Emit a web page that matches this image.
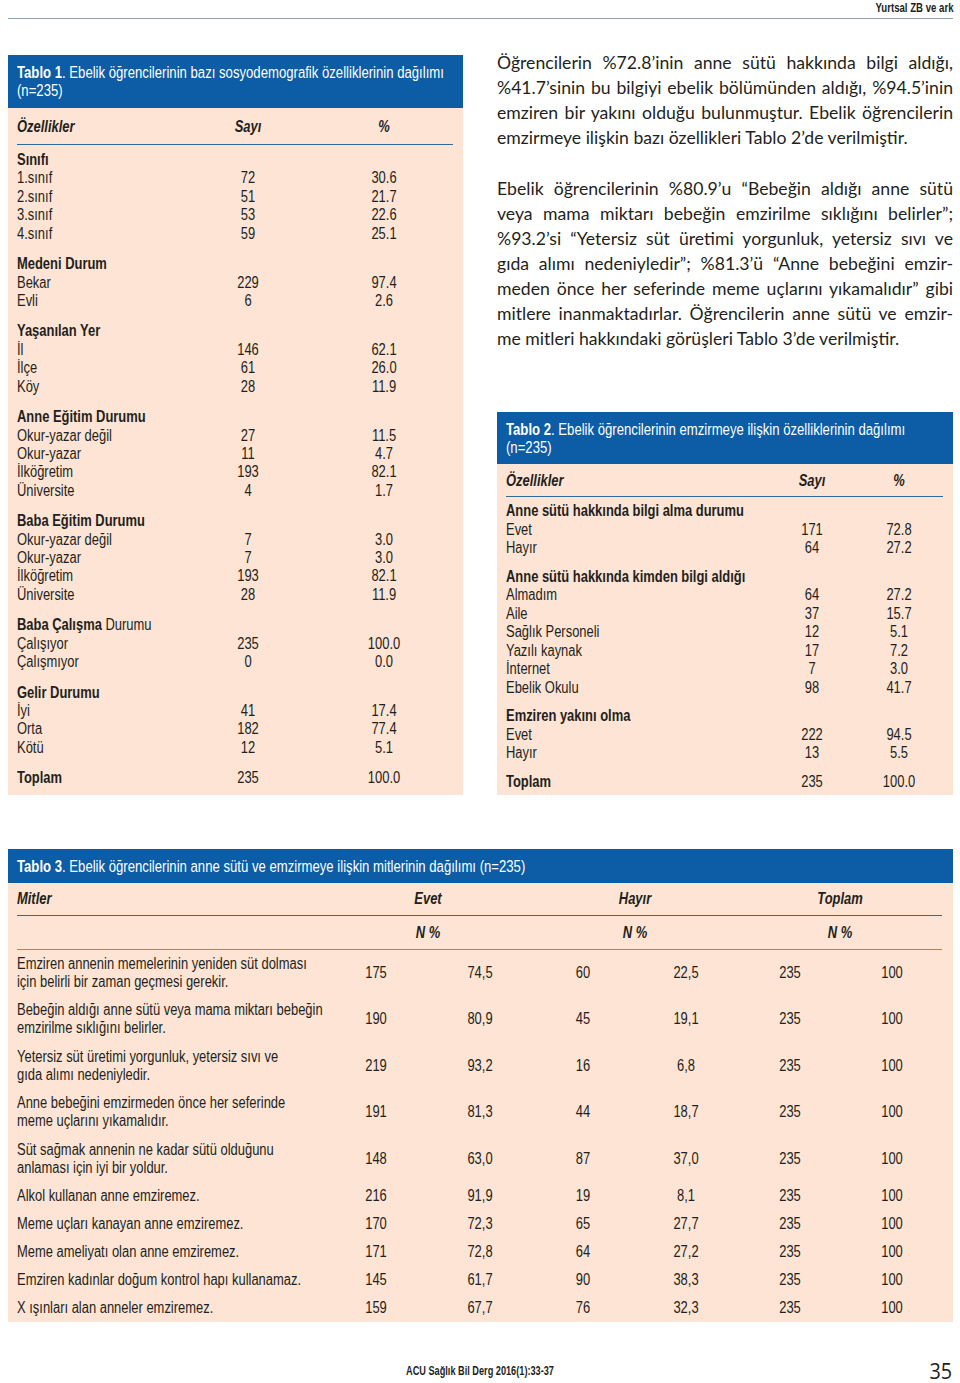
<!DOCTYPE html>
<html><head><meta charset="utf-8">
<script src="https://cdn.jsdelivr.net/npm/chart.js@4.4.1/dist/chart.umd.min.js"></script>
<style>
html,body{margin:0;padding:0;background:#fff;}
body{width:960px;height:1383px;position:relative;overflow:hidden;
 font-family:"Liberation Sans",Arial,sans-serif;color:#231f20;font-size:16px;}
.a{position:absolute;white-space:nowrap;line-height:20px;height:20px;}
.box{position:absolute;background:#fde4d4;}
.hdr{position:absolute;background:#0c5da5;}
.rule{position:absolute;height:1px;background:#2f6a9c;}
.p{position:absolute;white-space:nowrap;font-family:Lato,"Open Sans",sans-serif;color:#231f20;line-height:25px;}
</style></head>
<body>
<script>
// ---------- DATA ----------
const headerRight = "Yurtsal ZB ve ark";
const footerText = "ACU Sağlık Bil Derg 2016(1):33-37";
const pageNumber = "35";

const t1Title = ["Tablo 1", ". Ebelik öğrencilerinin bazı sosyodemografik özelliklerinin dağılımı", "(n=235)"];
const t1Columns = ["Özellikler", "Sayı", "%"];
const t1GroupTitles = ["Sınıfı","Medeni Durum","Yaşanılan Yer","Anne Eğitim Durumu","Baba Eğitim Durumu","Baba Çalışma Durumu","Gelir Durumu"];
const t1GroupBoldWords = [1,2,2,3,3,2,2];
const t1Labels = [
 ["1.sınıf","2.sınıf","3.sınıf","4.sınıf"],
 ["Bekar","Evli"],
 ["İl","İlçe","Köy"],
 ["Okur-yazar değil","Okur-yazar","İlköğretim","Üniversite"],
 ["Okur-yazar değil","Okur-yazar","İlköğretim","Üniversite"],
 ["Çalışıyor","Çalışmıyor"],
 ["İyi","Orta","Kötü"]];
const t1Counts = [[72,51,53,59],[229,6],[146,61,28],[27,11,193,4],[7,7,193,28],[235,0],[41,182,12]];
const t1Percents = [["30.6","21.7","22.6","25.1"],["97.4","2.6"],["62.1","26.0","11.9"],["11.5","4.7","82.1","1.7"],["3.0","3.0","82.1","11.9"],["100.0","0.0"],["17.4","77.4","5.1"]];
const t1Total = ["Toplam", 235, "100.0"];

const t2Title = ["Tablo 2", ". Ebelik öğrencilerinin emzirmeye ilişkin özelliklerinin dağılımı", "(n=235)"];
const t2Columns = ["Özellikler", "Sayı", "%"];
const t2GroupTitles = ["Anne sütü hakkında bilgi alma durumu","Anne sütü hakkında kimden bilgi aldığı","Emziren yakını olma"];
const t2Labels = [["Evet","Hayır"],["Almadım","Aile","Sağlık Personeli","Yazılı kaynak","İnternet","Ebelik Okulu"],["Evet","Hayır"]];
const t2Counts = [[171,64],[64,37,12,17,7,98],[222,13]];
const t2Percents = [["72.8","27.2"],["27.2","15.7","5.1","7.2","3.0","41.7"],["94.5","5.5"]];
const t2Total = ["Toplam", 235, "100.0"];

const t3Title = ["Tablo 3", ". Ebelik öğrencilerinin anne sütü ve emzirmeye ilişkin mitlerinin dağılımı (n=235)"];
const t3Columns = ["Mitler","Evet","Hayır","Toplam"];
const t3SubColumns = ["N %","N %","N %"];
const t3Myths = [
 ["Emziren annenin memelerinin yeniden süt dolması","için belirli bir zaman geçmesi gerekir."],
 ["Bebeğin aldığı anne sütü veya mama miktarı bebeğin","emzirilme sıklığını belirler."],
 ["Yetersiz süt üretimi yorgunluk, yetersiz sıvı ve","gıda alımı nedeniyledir."],
 ["Anne bebeğini emzirmeden önce her seferinde","meme uçlarını yıkamalıdır."],
 ["Süt sağmak annenin ne kadar sütü olduğunu","anlaması için iyi bir yoldur."],
 ["Alkol kullanan anne emziremez."],
 ["Meme uçları kanayan anne emziremez."],
 ["Meme ameliyatı olan anne emziremez."],
 ["Emziren kadınlar doğum kontrol hapı kullanamaz."],
 ["X ışınları alan anneler emziremez."]];
const t3EvetN = [175,190,219,191,148,216,170,171,145,159];
const t3EvetPct = ["74,5","80,9","93,2","81,3","63,0","91,9","72,3","72,8","61,7","67,7"];
const t3HayirN = [60,45,16,44,87,19,65,64,90,76];
const t3HayirPct = ["22,5","19,1","6,8","18,7","37,0","8,1","27,7","27,2","38,3","32,3"];
const t3TotalN = [235,235,235,235,235,235,235,235,235,235];
const t3TotalPct = ["100","100","100","100","100","100","100","100","100","100"];

const para1 = [
 "Öğrencilerin %72.8’inin anne sütü hakkında bilgi aldığı,",
 "%41.7’sinin bu bilgiyi ebelik bölümünden aldığı, %94.5’inin",
 "emziren bir yakını olduğu bulunmuştur. Ebelik öğrencilerin",
 "emzirmeye ilişkin bazı özellikleri Tablo 2’de verilmiştir."];
const para2 = [
 "Ebelik öğrencilerinin %80.9’u “Bebeğin aldığı anne sütü",
 "veya mama miktarı bebeğin emzirilme sıklığını belirler”;",
 "%93.2’si “Yetersiz süt üretimi yorgunluk, yetersiz sıvı ve",
 "gıda alımı nedeniyledir”; %81.3’ü “Anne bebeğini emzir-",
 "meden önce her seferinde meme uçlarını yıkamalıdır” gibi",
 "mitlere inanmaktadırlar. Öğrencilerin anne sütü ve emzir-",
 "me mitleri hakkındaki görüşleri Tablo 3’de verilmiştir."];

// ---------- RENDER HELPERS ----------
const B = document.body;
function el(cls, css, html){const d=document.createElement('div');d.className=cls;Object.assign(d.style,css);if(html!==undefined)d.innerHTML=html;B.appendChild(d);return d;}
function esc(s){return String(s).replace(/&/g,'&amp;').replace(/</g,'&lt;');}

// condensed scale: fit a reference line to its width in the print
const probe=el('a',{left:'0px',top:'-100px'},esc("Emziren kadınlar doğum kontrol hapı kullanamaz."));
const SX=284/probe.getBoundingClientRect().width; probe.remove();
const TFS='16.25px';

function txt(s,x,yc,align,extra,sx){
  sx = sx||SX;
  const css=Object.assign({top:(yc-10)+'px'},extra||{});
  const d=el('a',css,typeof s==='string'&&s.startsWith('<')?s:esc(s));
  if(align==='center'){d.style.left=x+'px';d.style.transformOrigin='center center';d.style.transform='translateX(-50%) scaleX('+sx+')';}
  else if(align==='right'){d.style.right=(960-x)+'px';d.style.transformOrigin='right center';d.style.transform='scaleX('+sx+')';}
  else {d.style.left=x+'px';d.style.transformOrigin='left center';d.style.transform='scaleX('+sx+')';}
  return d;
}
function boldWords(s,n){const w=s.split(' ');return '<b>'+esc(w.slice(0,n).join(' '))+'</b>'+(w.length>n?' '+esc(w.slice(n).join(' ')):'');}

// ---------- PAGE HEADER / FOOTER ----------
txt(headerRight,953,8,'right',{fontWeight:'bold',fontSize:'13px'},0.74);
el('rule',{left:'8px',top:'18px',width:'945px',background:'#8aa3b8'});
txt(footerText,480,1371,'center',{fontWeight:'bold',fontSize:'13.5px'},0.68);
txt(pageNumber,952,1370,'right',{fontSize:'22px',fontFamily:'"Open Sans",sans-serif',lineHeight:'22px',height:'22px',top:'1359px'},0.9);

// ---------- GENERIC GROUP TABLE ----------
function groupTable(o){
  el('box',{left:o.x+'px',top:o.y+'px',width:o.w+'px',height:o.h+'px'});
  el('hdr',{left:o.x+'px',top:o.y+'px',width:o.w+'px',height:o.hh+'px'});
  txt('<span style="font-weight:bold">'+esc(o.title[0])+'</span>'+esc(o.title[1]),o.x+9,o.titleY[0],'left',{color:'#fff',fontSize:TFS});
  txt(o.title[2],o.x+9,o.titleY[1],'left',{color:'#fff',fontSize:TFS});
  txt('<b><i>'+esc(o.cols[0])+'</i></b>',o.x+9,o.headY,'left');
  txt('<b><i>'+esc(o.cols[1])+'</i></b>',o.cx[0],o.headY,'center');
  txt('<b><i>'+esc(o.cols[2])+'</i></b>',o.cx[1],o.headY,'center');
  el('rule',{left:(o.x+9)+'px',top:o.ruleY+'px',width:(o.w-19)+'px'});
  let y=o.startY;
  o.groups.forEach((g,gi)=>{
    if(gi>0) y+=o.gap;
    txt(o.bold?boldWords(g,o.bold[gi]):'<b>'+esc(g)+'</b>',o.x+9,y,'left');
    o.labels[gi].forEach((lab,i)=>{
      y+=o.step;
      txt(lab,o.x+9,y,'left');
      txt(String(o.counts[gi][i]),o.cx[0],y,'center');
      txt(o.pcts[gi][i],o.cx[1],y,'center');
    });
  });
  y+=o.gap;
  txt('<b>'+esc(o.total[0])+'</b>',o.x+9,y,'left');
  txt(String(o.total[1]),o.cx[0],y,'center');
  txt(o.total[2],o.cx[1],y,'center');
}

groupTable({x:8,y:55,w:455,h:740,hh:53,title:t1Title,titleY:[72,90],cols:t1Columns,headY:127,ruleY:144,
  cx:[248,384],startY:160,step:18.4,gap:30.5,groups:t1GroupTitles,bold:t1GroupBoldWords,
  labels:t1Labels,counts:t1Counts,pcts:t1Percents,total:t1Total});

groupTable({x:497,y:412,w:456,h:383,hh:52,title:t2Title,titleY:[429,447],cols:t2Columns,headY:481,ruleY:496,
  cx:[812,899],startY:511,step:18.5,gap:28.5,groups:t2GroupTitles,bold:null,
  labels:t2Labels,counts:t2Counts,pcts:t2Percents,total:t2Total});

// ---------- TABLE 3 ----------
(function(){
  el('box',{left:'8px',top:'849px',width:'945px',height:'473px'});
  el('hdr',{left:'8px',top:'849px',width:'945px',height:'34px'});
  txt('<span style="font-weight:bold">'+esc(t3Title[0])+'</span>'+esc(t3Title[1]),17,866,'left',{color:'#fff',fontSize:TFS});
  const hx=[428,635,840];
  txt('<b><i>'+esc(t3Columns[0])+'</i></b>',17,899,'left');
  for(let i=0;i<3;i++){txt('<b><i>'+esc(t3Columns[i+1])+'</i></b>',hx[i],899,'center');txt('<b><i>'+esc(t3SubColumns[i])+'</i></b>',hx[i],933,'center');}
  el('rule',{left:'17px',top:'915px',width:'925px'});
  el('rule',{left:'17px',top:'949px',width:'925px',background:'#7f8fa0'});
  const nx=[376,480,583,686,790,892];
  const rowY=[973,1019,1066,1112,1159,1196,1224,1252,1280,1308];
  t3Myths.forEach((m,i)=>{
    const yc=rowY[i];
    if(m.length===2){txt(m[0],17,yc-9,'left');txt(m[1],17,yc+9,'left');}
    else txt(m[0],17,yc,'left');
    const vals=[t3EvetN[i],t3EvetPct[i],t3HayirN[i],t3HayirPct[i],t3TotalN[i],t3TotalPct[i]];
    vals.forEach((v,j)=>txt(String(v),nx[j],yc,'center'));
  });
})();

// ---------- BODY TEXT (justified lines) ----------
function para(lines,x,y0,w,lh,fs){
  lines.forEach((s,i)=>{
    const d=el('p',{left:x+'px',top:(y0+i*lh-12.5)+'px',fontSize:fs+'px'},esc(s));
    if(i<lines.length-1){
      const nat=d.getBoundingClientRect().width;
      const sp=(s.match(/ /g)||[]).length;
      if(nat>w){d.style.letterSpacing=((w-nat)/s.length)+'px';}
      else if(sp>0){d.style.wordSpacing=((w-nat)/sp)+'px';}
    }
  });
}
const pprobe=el('p',{left:'0px',top:'-100px',fontSize:'100px'},esc(para1[3]));
const PFS=100*411/pprobe.getBoundingClientRect().width; pprobe.remove();
para(para1,497,62,456,25,PFS);
para(para2,497,188,456,25,PFS);
</script>
</body></html>
